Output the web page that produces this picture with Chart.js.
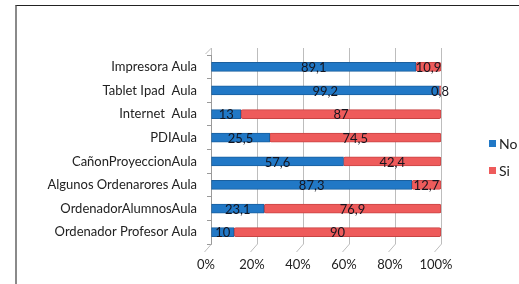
<!DOCTYPE html>
<html>
<head>
<meta charset="utf-8">
<script src="https://cdn.jsdelivr.net/npm/chart.js@4"></script>
<style>
  html, body { margin: 0; padding: 0; background: #fff; }
  #wrap { position: relative; width: 519px; height: 284px; overflow: hidden; }
  #frame { position: absolute; left: 15px; top: 5px; right: -2px; bottom: -2px;
           border-top: 1px solid #222; border-left: 2px solid #8a8a8a; }
  canvas { position: absolute; left: 0; top: 0; }
</style>
</head>
<body>
<div id="wrap">
  <div id="frame"></div>
  <canvas id="chart" width="519" height="284"></canvas>
</div>
<script>
const categories = ['Impresora Aula', 'Tablet Ipad  Aula', 'Internet  Aula', 'PDIAula',
  'CañonProyeccionAula', 'Algunos Ordenarores Aula', 'OrdenadorAlumnosAula', 'Ordenador Profesor Aula'];
const noValues = [89.1, 99.2, 13, 25.5, 57.6, 87.3, 23.1, 10];
const siValues = [10.9, 0.8, 87, 74.5, 42.4, 12.7, 76.9, 90];
const xTicks = [0, 20, 40, 60, 80, 100];

const font = 'Lato';

// numbers on the bars, comma decimals
const barLabels = {
  id: 'barLabels',
  afterDatasetsDraw(chart) {
    const ctx = chart.ctx;
    ctx.save();
    ctx.font = '13px ' + font;
    ctx.fillStyle = '#15151f';
    ctx.textAlign = 'center';
    ctx.textBaseline = 'middle';
    chart.data.datasets.forEach((ds, i) => {
      chart.getDatasetMeta(i).data.forEach((bar, j) => {
        const left = Math.min(bar.x, bar.base), right = Math.max(bar.x, bar.base);
        const txt = String(ds.data[j]).replace('.', ',');
        ctx.fillText(txt, (left + right) / 2, bar.y + 1);
      });
    });
    ctx.restore();
  }
};

// 3d-ish floor / top lines + legend on the right
const extras = {
  id: 'extras',
  beforeDatasetsDraw(chart) {
    const ctx = chart.ctx;
    const a = chart.chartArea;
    const x = chart.scales.x;
    ctx.save();
    ctx.strokeStyle = '#bdbdbd';
    ctx.lineWidth = 1;
    xTicks.forEach(v => {
      const px = Math.round(x.getPixelForValue(v)) + 0.5;
      ctx.beginPath();
      ctx.moveTo(px, a.top - 7);
      ctx.lineTo(px, a.top);
      ctx.moveTo(px, a.bottom);
      ctx.lineTo(px - 7, a.bottom + 8);
      ctx.stroke();
    });
    ctx.beginPath();
    ctx.moveTo(a.left + 0.5, a.top - 7);
    ctx.lineTo(a.left - 5.5, a.top - 1);
    ctx.stroke();
    ctx.restore();
  },
  afterDraw(chart) {
    const ctx = chart.ctx;
    const items = [['No', '#2178c6'], ['Si', '#ee5b5b']];
    ctx.save();
    ctx.font = '14px ' + font;
    ctx.textBaseline = 'middle';
    ctx.textAlign = 'left';
    items.forEach((it, i) => {
      const y = 143 + i * 27;
      ctx.fillStyle = it[1];
      ctx.fillRect(489, y - 3, 7, 7);
      ctx.fillStyle = '#222';
      ctx.fillText(it[0], 499, y + 1);
    });
    ctx.restore();
  }
};

new Chart(document.getElementById('chart'), {
  type: 'bar',
  data: {
    labels: categories,
    datasets: [
      { label: 'No', data: noValues, backgroundColor: '#2178c6', borderColor: '#1a5f9e',
        borderWidth: 1, borderSkipped: false, borderRadius: 2, barThickness: 9 },
      { label: 'Si', data: siValues, backgroundColor: '#ee5b5b', borderColor: '#c84444',
        borderWidth: 1, borderSkipped: false, borderRadius: 2, barThickness: 9 }
    ]
  },
  options: {
    indexAxis: 'y',
    responsive: false,
    animation: false,
    layout: { padding: { top: 55, right: 78, bottom: 0, left: 0 } },
    plugins: { legend: { display: false }, tooltip: { enabled: false } },
    scales: {
      x: {
        stacked: true,
        min: 0, max: 100,
        afterBuildTicks: s => { s.ticks = xTicks.map(v => ({ value: v })); },
        afterFit: s => { s.height = 40; },
        border: { display: false },
        grid: { color: '#bdbdbd', tickLength: 0 },
        ticks: { padding: 13, labelOffset: -5, color: '#222', font: { family: font, size: 13 },
                 callback: v => v + '%' }
      },
      y: {
        stacked: true,
        afterFit: s => { s.width = 211; },
        border: { display: true, color: '#9a9a9a' },
        grid: { drawOnChartArea: false, offset: true, tickLength: 4, color: '#9a9a9a' },
        ticks: { padding: 10, color: '#222', font: { family: font, size: 13 } }
      }
    }
  },
  plugins: [barLabels, extras]
});
</script>
</body>
</html>
